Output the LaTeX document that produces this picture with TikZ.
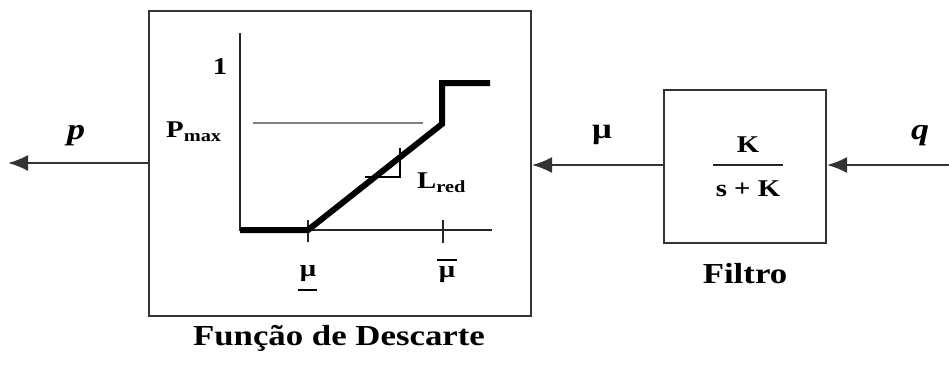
\documentclass[tikz,border=0pt]{standalone}
\usepackage{fontspec}
\setmainfont{Liberation Serif}
\newfontfamily\lbl[FakeStretch=1.2]{Liberation Serif}
\usetikzlibrary{arrows.meta,calc}
\tikzset{
  blockbox/.style={draw=black!80,line width=2pt,fill=white},
  sig/.style={draw=black!80,line width=2pt,-{Latex[length=20pt,width=16pt]}},
  big/.style={inner sep=0pt,font=\lbl\bfseries\fontsize{29}{32}\selectfont},
  small/.style={inner sep=0pt,font=\lbl\bfseries\fontsize{24}{27}\selectfont},
  axisline/.style={draw=black!85,line width=1.5pt},
  curve/.style={draw=black,line width=6pt,line join=miter},
}
\begin{document}
\begin{tikzpicture}[x=1pt,y=-1pt]
\useasboundingbox[fill=white] (0,0) rectangle (949,367);
% blocks
\node[blockbox,minimum width=382pt,minimum height=305pt,anchor=north west] (fd) at (148,10) {};
\node[blockbox,minimum width=162pt,minimum height=153pt,anchor=north west] (filt) at (663,89) {};
% signal connectors
\coordinate (qin) at (949,165);
\coordinate (pout) at (8,163);
\draw[sig] (qin) -- (filt.east |- qin);
\draw[sig] (filt.west |- qin) -- (fd.east |- qin);
\draw[sig] (fd.west |- pout) -- (pout);
% signal labels
\node[big,font=\lbl\bfseries\itshape\fontsize{30}{32}\selectfont] (plab) at (76,136) {p};
\node[big,font=\lbl\bfseries\itshape\fontsize{30}{32}\selectfont] (qlab) at (920,136) {q};
\node[big] (mulab) at (602,135) {μ};
% filter content
\node[small] (kn) at (748,145) {K};
\draw[line width=1.6pt,black!85] (713,165) -- (783,165);
\node[small] (skn) at (748,189) {s + K};
\node[big] (filtlab) at (745,274) {Filtro};
% caption
\node[big] (fdlab) at (339,338) {Função de Descarte};
% axes
\coordinate (o) at (240,230);
\draw[axisline] (240,33) -- (o) -- (492,230);
\draw[axisline] (308,220) -- (308,242);
\draw[axisline] (443,220) -- (443,243);
% Pmax line
\draw[draw=black!50,line width=2pt] (253,123) -- (423,123);
% slope triangle
\draw[black,line width=1.3pt] (365,177) -- (400,177) -- (400,148);
% characteristic
\draw[curve] (240,230) -- (308,230) -- (442,124) -- (442,83) -- (490,83);
% labels in plot
\node[small] (one) at (220,67) {1};
\node[small,anchor=west] (pmax) at (166,132) {P\textsubscript{\fontsize{17}{18}\selectfont max}};
\node[small,anchor=west] (lred) at (417,183) {L\textsubscript{\fontsize{17}{18}\selectfont red}};
\node[small] (mulo) at (308,274) {μ};
\draw[black,line width=1.5pt] (298,290) -- (317,290);
\node[small] (muhi) at (447,275) {μ};
\draw[black,line width=1.5pt] (437,260) -- (457,260);
\end{tikzpicture}
\end{document}
